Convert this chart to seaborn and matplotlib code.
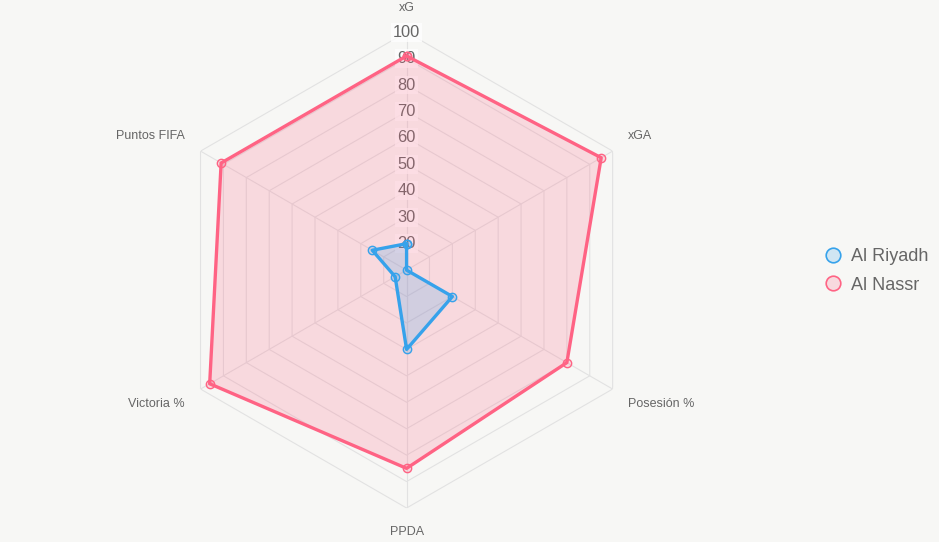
import numpy as np
import pandas as pd
import seaborn as sns
import matplotlib.pyplot as plt
from matplotlib.lines import Line2D

categories = ['xG', 'xGA', 'Posesión %', 'PPDA', 'Victoria %', 'Puntos FIFA']
teams = ['Al Riyadh', 'Al Nassr']
al_riyadh = [20, 10, 30, 40, 15, 25]
al_nassr = [91, 95, 80, 85, 96, 91]
ticks = [20, 30, 40, 50, 60, 70, 80, 90, 100]

line_colors = {'Al Riyadh': '#36a2eb', 'Al Nassr': '#ff6384'}
fill_colors = {'Al Riyadh': (54 / 255, 162 / 255, 235 / 255, 0.2),
               'Al Nassr': (255 / 255, 99 / 255, 132 / 255, 0.2)}

sns.set_theme(style='white')
plt.rcParams['font.family'] = ['Liberation Sans', 'DejaVu Sans']

angles = list(np.linspace(0, 2 * np.pi, len(categories), endpoint=False))
closed = angles + [2 * np.pi]

rows = []
for team, vals in [('Al Riyadh', al_riyadh), ('Al Nassr', al_nassr)]:
    for a, v in zip(closed, vals + vals[:1]):
        rows.append({'team': team, 'angle': a, 'value': v})
df = pd.DataFrame(rows)

fig = plt.figure(figsize=(9.39, 5.42), dpi=100, facecolor='#f7f7f5')
ax = fig.add_axes([0.1795, 0.0627, 0.507, 0.878], projection='polar')
ax.set_theta_offset(np.pi / 2)
ax.set_theta_direction(-1)
ax.set_ylim(10, 100)
ax.patch.set_alpha(0)
ax.grid(False)
ax.spines['polar'].set_visible(False)

# hexagon grid + angle lines
for t in ticks:
    ax.plot(closed, [t] * len(closed), color='#e2e2e2', lw=0.8, zorder=1)
for a in angles:
    ax.plot([a, a], [10, 100], color='#e2e2e2', lw=0.8, zorder=1)

# radial tick labels
for t in ticks:
    ax.text(0, t, str(t), ha='center', va='center', fontsize=11.8, color='#666666', zorder=1.5,
            bbox=dict(boxstyle='square,pad=0.12', fc=(1, 1, 1, 0.75), ec='none'))

# category labels
r_lab = 106.8
align = [('center', 'bottom'), ('left', 'bottom'), ('left', 'top'),
         ('center', 'top'), ('right', 'top'), ('right', 'bottom')]
for a, cat, (ha, va) in zip(angles, categories, align):
    ax.text(a, r_lab, cat, ha=ha, va=va, fontsize=9, color='#666666', clip_on=False)

# datasets (first dataset on top, like chart.js)
for z, team in [(2, 'Al Nassr'), (4, 'Al Riyadh')]:
    sub = df[df['team'] == team]
    ax.fill(sub['angle'], sub['value'], color=fill_colors[team], lw=0, zorder=z)
    sns.lineplot(data=sub, x='angle', y='value', sort=False, estimator=None, ax=ax,
                 color=line_colors[team], lw=2.4, marker='o', markersize=6,
                 markerfacecolor=fill_colors[team], markeredgecolor=line_colors[team],
                 markeredgewidth=1, zorder=z + 1, legend=False)
ax.set_xlabel('')
ax.set_ylabel('')
ax.set_xticks([])
ax.set_yticks([])
ax.set_ylim(10, 100)

handles = [Line2D([], [], ls='', marker='o', ms=10.5, mfc=fill_colors[t],
                  mec=line_colors[t], mew=1.2) for t in teams]
fig.legend(handles, teams, loc='center left', bbox_to_anchor=(0.860, 0.500),
           frameon=False, fontsize=13, labelcolor='#666666', handlelength=1.0,
           handletextpad=0.5, labelspacing=0.62)

fig.savefig('out.png', dpi=100, facecolor=fig.get_facecolor())
